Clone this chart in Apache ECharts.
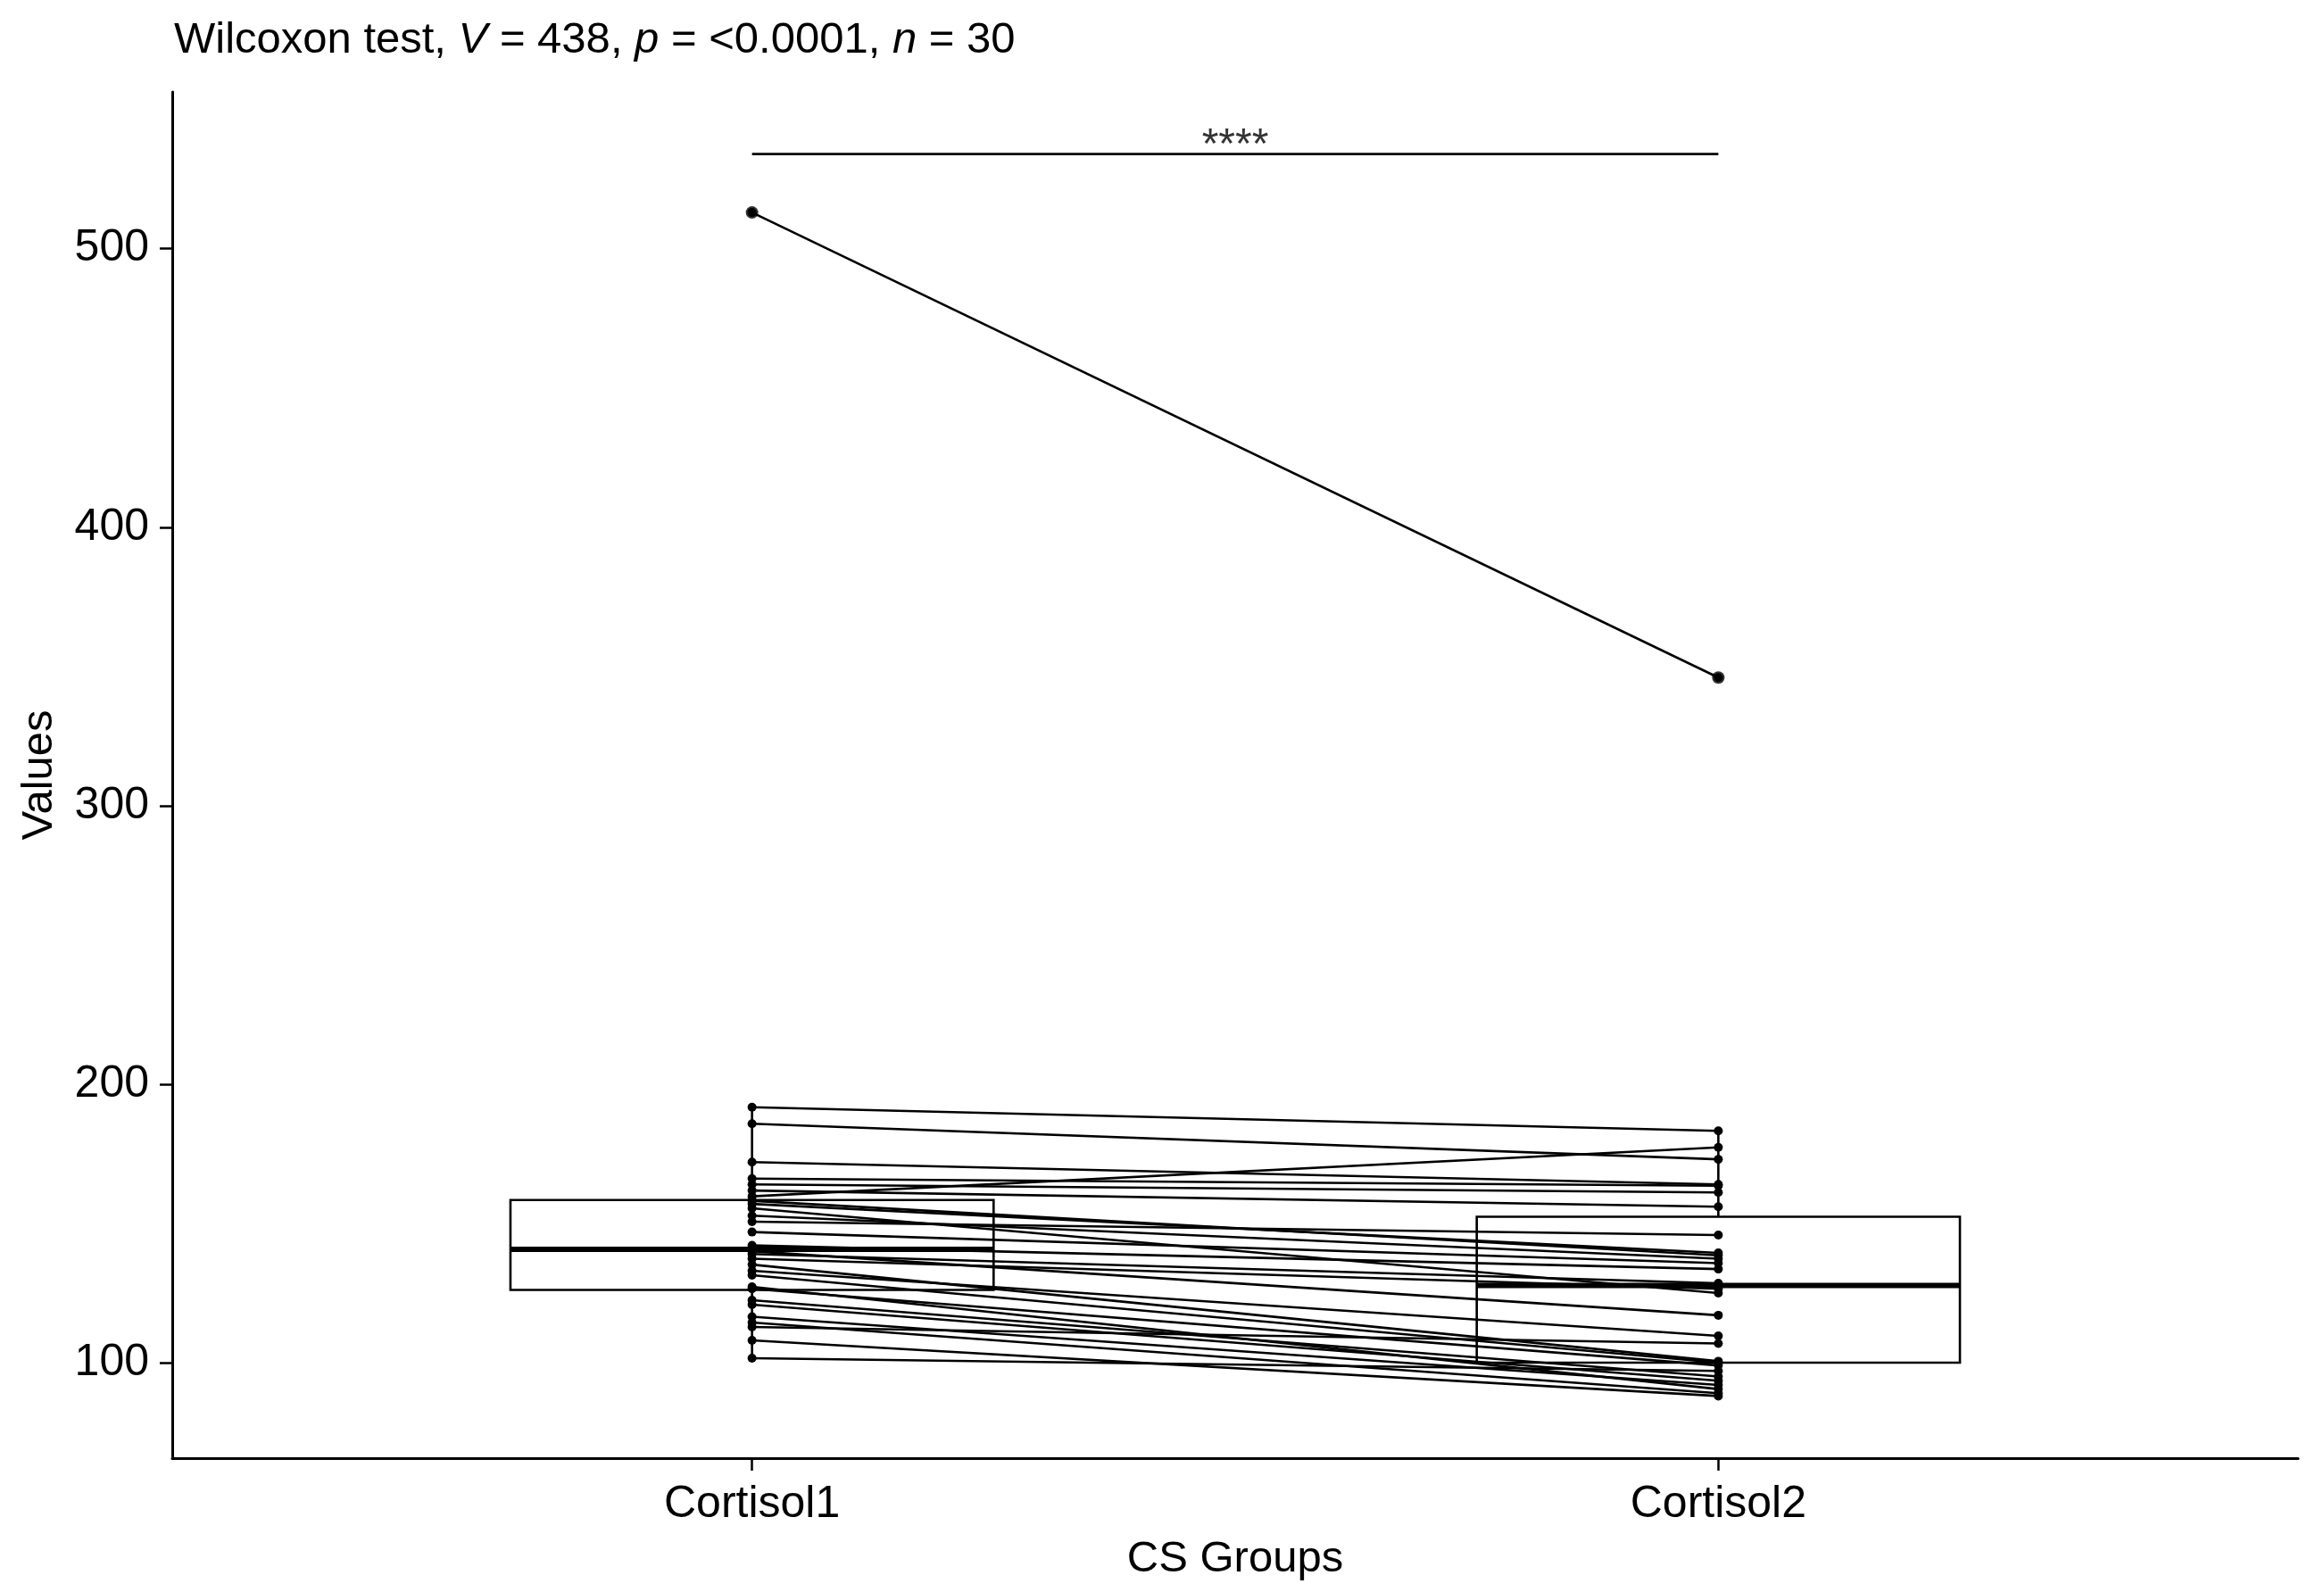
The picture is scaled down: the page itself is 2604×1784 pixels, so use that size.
<!DOCTYPE html>
<html>
<head>
<meta charset="utf-8">
<script src="https://cdn.jsdelivr.net/npm/echarts@6/dist/echarts.min.js"></script>
<style>
  html, body { margin: 0; padding: 0; background: #fff; }
  #chart { width: 2604px; height: 1784px; }
</style>
</head>
<body>
<div id="chart"></div>
<script>
// paired values, same index = same subject
var groups = ['Cortisol1', 'Cortisol2']
var cortisol1 = [513, 191.7, 185.8, 172, 166.1, 164, 161.8, 159.7, 158.1, 157, 155.4, 152.8, 150.6, 146.9, 142.1,
  140, 139, 137.3, 135.2, 133, 131.4, 127.2, 126.5, 122.4, 120.8, 116.5, 114.4, 112.8, 108, 101.6]
var cortisol2 = [346, 183.2, 173, 164, 163.5, 161.1, 156, 177.3, 138.5, 139.4, 125, 137.3, 145.8, 135.7, 133.6,
  117, 128.5, 126.5, 100.5, 109.6, 100, 90.5, 99, 95, 93.5, 92, 89, 106.9, 88, 97]

// boxplot stats: whisker low, q1, median, q3, whisker high
var boxStats1 = [101.6, 126.1, 140.7, 158.4, 191.7]
var boxStats2 = [88, 100.0, 127.7, 152.4, 183.2]
var outliers1 = [513]
var outliers2 = [346]

var yTicks = [100, 200, 300, 400, 500]
var bracketY = 534
var sigLabel = '****'

var fontFamily = '"Liberation Sans", Arial, sans-serif'
var chart = echarts.init(document.getElementById('chart'))

var pairSeries = cortisol1.map(function (v, i) {
  return {
    type: 'line',
    z: 3,
    silent: true,
    symbol: 'circle',
    symbolSize: 10,
    itemStyle: { color: '#000' },
    lineStyle: { color: '#000', width: 2.6 },
    data: [[1, v], [2, cortisol2[i]]]
  }
})

var boxSeries = {
  type: 'custom',
  z: 2,
  silent: true,
  data: [[1].concat(boxStats1), [2].concat(boxStats2)],
  renderItem: function (params, api) {
    var x = api.value(0)
    var halfW = 0.25
    var tl = api.coord([x - halfW, api.value(4)])
    var br = api.coord([x + halfW, api.value(2)])
    var med = api.coord([x, api.value(3)])
    var top = api.coord([x, api.value(5)])
    var bot = api.coord([x, api.value(1)])
    var st = { stroke: '#000', lineWidth: 2.6 }
    return {
      type: 'group',
      children: [
        { type: 'line', shape: { x1: top[0], y1: top[1], x2: top[0], y2: tl[1] }, style: st },
        { type: 'line', shape: { x1: bot[0], y1: br[1], x2: bot[0], y2: bot[1] }, style: st },
        { type: 'rect', shape: { x: tl[0], y: tl[1], width: br[0] - tl[0], height: br[1] - tl[1] },
          style: { fill: '#fff', stroke: '#000', lineWidth: 2.6 } },
        { type: 'line', shape: { x1: tl[0], y1: med[1], x2: br[0], y2: med[1] },
          style: { stroke: '#000', lineWidth: 6 } }
      ]
    }
  }
}

var outlierSeries = {
  type: 'scatter',
  z: 4,
  silent: true,
  symbolSize: 14,
  itemStyle: { color: '#000' },
  data: outliers1.map(function (v) { return [1, v] }).concat(outliers2.map(function (v) { return [2, v] }))
}

var bracketSeries = {
  type: 'line',
  z: 4,
  silent: true,
  symbol: 'none',
  lineStyle: { color: '#000', width: 2.6 },
  data: [[1, bracketY], [2, bracketY]]
}

var starSeries = {
  type: 'scatter',
  z: 4,
  silent: true,
  symbolSize: 0,
  data: [[1.5, bracketY]],
  label: {
    show: true,
    position: 'top',
    distance: -15,
    formatter: sigLabel,
    color: '#000',
    fontSize: 48,
    fontFamily: fontFamily
  }
}

chart.setOption({
  animation: false,
  backgroundColor: '#fff',
  title: {
    left: 190,
    top: 16,
    text: '{a|Wilcoxon test, }{i|V}{a| = 438, }{i|p}{a| = <0.0001, }{i|n}{a| = 30}',
    textStyle: {
      fontWeight: 'normal',
      rich: {
        a: { fontSize: 49, color: '#000', fontFamily: fontFamily, fontWeight: 'normal' },
        i: { fontSize: 49, color: '#000', fontFamily: fontFamily, fontWeight: 'normal', fontStyle: 'italic' }
      }
    }
  },
  grid: { left: 193, right: 29, top: 103, bottom: 150, containLabel: false },
  xAxis: {
    type: 'value',
    min: 0.4,
    max: 2.6,
    name: 'CS Groups',
    nameLocation: 'middle',
    nameGap: 89,
    nameTextStyle: { fontSize: 49, color: '#000', fontFamily: fontFamily },
    splitLine: { show: false },
    axisLine: { show: true, onZero: false, lineStyle: { color: '#000', width: 3 } },
    axisTick: { show: true, length: 14, customValues: [1, 2], lineStyle: { color: '#000', width: 2.5 } },
    axisLabel: {
      customValues: [1, 2],
      margin: 27,
      fontSize: 50,
      color: '#000',
      fontFamily: fontFamily,
      formatter: function (v) { return groups[Math.round(v) - 1] }
    }
  },
  yAxis: {
    type: 'value',
    min: 65.7,
    max: 556.3,
    name: 'Values',
    nameLocation: 'middle',
    nameGap: 124,
    nameTextStyle: { fontSize: 49, color: '#000', fontFamily: fontFamily },
    splitLine: { show: false },
    axisLine: { show: true, onZero: false, lineStyle: { color: '#000', width: 3 } },
    axisTick: { show: true, length: 14, customValues: yTicks, lineStyle: { color: '#000', width: 2.5 } },
    axisLabel: {
      customValues: yTicks,
      margin: 26,
      fontSize: 50,
      color: '#000',
      fontFamily: fontFamily
    }
  },
  series: [boxSeries].concat(pairSeries, [outlierSeries, bracketSeries, starSeries])
})
</script>
</body>
</html>
